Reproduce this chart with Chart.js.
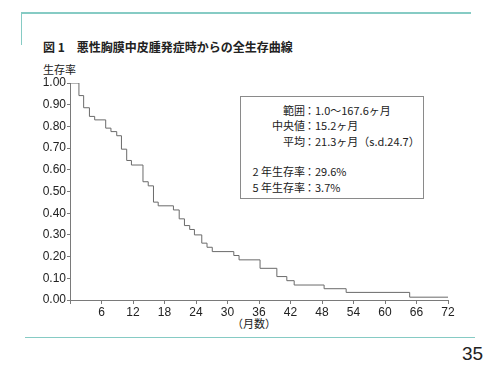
<!DOCTYPE html>
<html>
<head>
<meta charset="utf-8">
<script src="https://cdn.jsdelivr.net/npm/chart.js@4.4.1/dist/chart.umd.min.js"></script>
<style>
  body { margin: 0; background: #fff; }
  #page { position: relative; width: 500px; height: 375px; overflow: hidden; font-family: "Noto Sans CJK JP", sans-serif; color: #222; }
  #myChart { position: absolute; left: 0; top: 0; }
  .abs { position: absolute; white-space: nowrap; }
  .teal { position: absolute; background: #86cbc4; }
  #box { position: absolute; left: 240px; top: 96px; width: 182px; height: 101px; border: 1px solid #8a8a8a; font-size: 11px; }
  #box .row { position: absolute; left: 0; height: 14px; line-height: 14px; width: 182px; }
  #box .lab { position: absolute; right: 118px; text-align: right; }
  #box .val { position: absolute; left: 63px; }
</style>
</head>
<body>
<div id="page">
  <div class="teal" style="left:21px; top:12px; width:450px; height:1.5px;"></div>
  <div class="teal" style="left:20.5px; top:12px; width:1.5px; height:33px;"></div>
  <div class="teal" style="left:25px; top:336.5px; width:450px; height:1.5px;"></div>

  <div class="abs" style="left:43px; top:39px; font-size:12px; font-weight:bold; line-height:16px;">図 1　悪性胸膜中皮腫発症時からの全生存曲線</div>
  <div class="abs" style="left:43px; top:61px; font-size:11px; line-height:16px;">生存率</div>
  <div class="abs" style="left:232px; top:316px; font-size:11px; line-height:14px;">（月数）</div>
  <div class="abs" style="left:462px; top:344px; font-size:19px; line-height:20px; font-family:'Liberation Sans', Arial, sans-serif;">35</div>

  <div id="box">
    <div class="row" style="top:6px;"><span class="lab">範囲</span><span class="val">：1.0〜167.6ヶ月</span></div>
    <div class="row" style="top:21px;"><span class="lab">中央値</span><span class="val">：15.2ヶ月</span></div>
    <div class="row" style="top:37px;"><span class="lab">平均</span><span class="val">：21.3ヶ月（s.d.24.7）</span></div>
    <div class="row" style="top:67px;"><span class="lab">2 年生存率</span><span class="val">：29.6%</span></div>
    <div class="row" style="top:83px;"><span class="lab">5 年生存率</span><span class="val">：3.7%</span></div>
  </div>

  <canvas id="myChart" width="500" height="375"></canvas>
</div>
<script>
// Kaplan-Meier steps (month of drop, survival after)
const months = [0, 1.7, 2.6, 3.7, 4.7, 6.8, 7.8, 8.9, 9.8, 10.8, 11.7, 13.9, 14.9, 15.9, 16.8,
  19.7, 20.8, 21.8, 22.8, 23.7, 25.1, 26.1, 27.1, 31.2, 32.2, 36.2, 39.4, 41.3, 42.7,
  48.4, 52.6, 64.7, 72];
const survival = [1.0, 0.942, 0.886, 0.846, 0.830, 0.792, 0.776, 0.757, 0.695, 0.643, 0.622,
  0.545, 0.526, 0.451, 0.434, 0.415, 0.374, 0.343, 0.325, 0.300, 0.262, 0.243, 0.223,
  0.205, 0.185, 0.146, 0.108, 0.089, 0.069, 0.052, 0.035, 0.013, 0.013];

const xMin = 0, xMax = 72, xStep = 6;
const yMin = 0, yMax = 1, yStep = 0.1;

const points = months.map((m, i) => ({ x: m, y: survival[i] }));

const axisColor = "#7a7a7a";
const tickFont = { family: "'Liberation Sans', Arial, sans-serif", size: 12 };

const config = {
  type: "line",
  data: {
    datasets: [
      {
        data: points,
        borderColor: "#6a6a6a",
        borderWidth: 1,
        pointRadius: 0,
        stepped: true,
        fill: false,
      },
    ],
  },
  options: {
    responsive: false,
    animation: false,
    devicePixelRatio: 1,
    layout: { padding: { left: 0, right: 52, top: 83, bottom: 45 } },
    plugins: { legend: { display: false }, tooltip: { enabled: false } },
    scales: {
      x: {
        type: "linear",
        min: xMin,
        max: xMax,
        border: { color: axisColor, width: 1 },
        grid: { drawOnChartArea: false, tickLength: 4, color: axisColor },
        ticks: {
          stepSize: xStep,
          color: "#222",
          font: tickFont,
          padding: 1,
          maxRotation: 0,
          callback: (v) => (v === 0 ? "" : v),
        },
        afterFit: (s) => { s.height = 30; },
      },
      y: {
        min: yMin,
        max: yMax,
        border: { color: axisColor, width: 1 },
        grid: { drawOnChartArea: false, tickLength: 3, color: axisColor },
        ticks: {
          stepSize: yStep,
          color: "#222",
          font: tickFont,
          padding: 1,
          callback: (v) => v.toFixed(2),
        },
        afterFit: (s) => { s.width = 70; },
      },
    },
  },
};

const myChart = new Chart(document.getElementById("myChart"), config);
</script>
</body>
</html>
